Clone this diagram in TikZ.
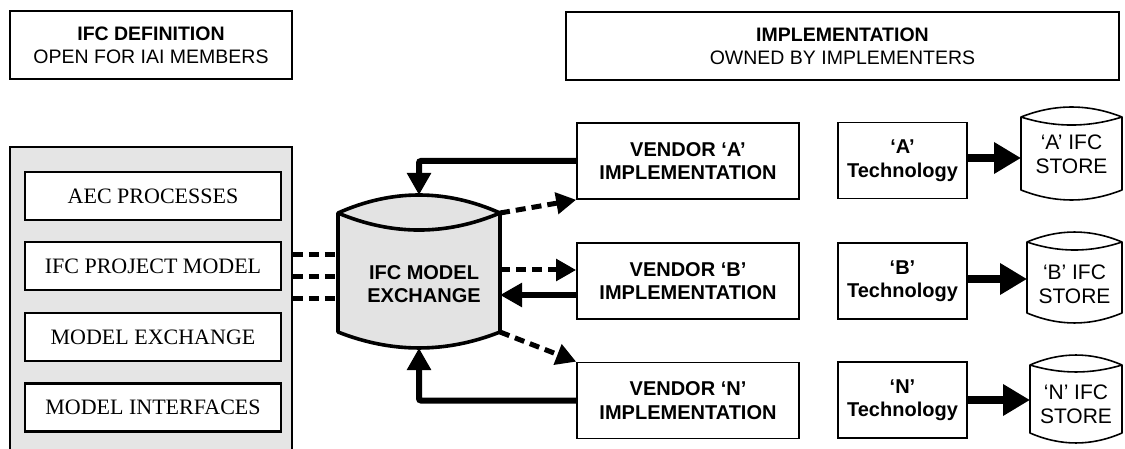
\documentclass[tikz,border=0pt]{standalone}
\usepackage{fontspec}
\setmainfont{Liberation Sans}
\newfontfamily\seriffont{Liberation Serif}
\usetikzlibrary{arrows.meta,calc}
\begin{document}
\begin{tikzpicture}[x=1pt,y=-1pt,
  sansf/.style={font=\fontsize{19.5}{23}\selectfont},
  sansb/.style={font=\fontsize{20}{23.5}\selectfont\bfseries},
  storef/.style={font=\fontsize{21}{24}\selectfont},
  hdr/.style={draw, line width=1.6pt, inner sep=0pt, align=center, sansf},
  panel/.style={draw, line width=1.6pt, fill=gray!20, inner sep=0pt},
  layer/.style={draw, line width=2.6pt, fill=white, inner sep=0pt, minimum width=256, minimum height=48, font=\seriffont\fontsize{22}{24}\selectfont},
  impl/.style={draw, line width=1.6pt, fill=white, inner sep=0pt, align=center, minimum height=76, sansb},
  cyl/.style={draw, line width=3.6pt, fill=gray!22, line join=round},
  store/.style={draw, line width=1.6pt, fill=white, line join=round},
  txt/.style={inner sep=0pt, align=center},
  solidarrow/.style={line width=6pt, rounded corners=2pt, -{Triangle[length=22pt,width=23pt]}},
  dasharrow/.style={line width=5pt, dash pattern=on 10pt off 6pt, -{Triangle[length=20pt,width=21pt]}},
  dashline/.style={line width=5pt, dash pattern=on 10pt off 6pt},
  techarrow/.style={line width=7.5pt, -{Triangle[length=27pt,width=30pt]}}
]
\useasboundingbox (0,0) rectangle (1125,449);

% headers
\node[hdr, minimum width=282, minimum height=68] (def) at (151,45)
  {\textbf{IFC DEFINITION}\\OPEN FOR IAI MEMBERS};
\node[hdr, minimum width=553, minimum height=68] (imp) at (842.5,46)
  {\textbf{IMPLEMENTATION}\\OWNED BY IMPLEMENTERS};

% left panel
\node[panel, minimum width=282, minimum height=308] (panel) at (151,301) {};
\node[layer] (aec) at (153,196) {AEC PROCESSES};
\node[layer] (ipm) at (153,266) {IFC PROJECT MODEL};
\node[layer] (mex) at (153,337) {MODEL EXCHANGE};
\node[layer] (mif) at (153,407.5) {MODEL INTERFACES};

% central cylinder
\draw[cyl] (338,213) .. controls (392,189) and (446,189) .. (500,213)
  -- (500,332) .. controls (446,353.3) and (392,353.3) .. (338,332) -- cycle;
\draw[cyl, fill=none] (338,213) .. controls (392,235.7) and (446,235.7) .. (500,213);
\node[txt, sansb] (ifc) at (424,284) {IFC MODEL\\EXCHANGE};
\coordinate (cTop) at (419,195);
\coordinate (cBot) at (419,348);
\coordinate (cTR) at (500,213);
\coordinate (cBR) at (500,332);
\coordinate (cR1) at (500,270);
\coordinate (cR2) at (500,295);
\coordinate (cL1) at (338,255);
\coordinate (cL2) at (338,277);
\coordinate (cL3) at (338,298);

% vendor boxes
\node[impl, minimum width=222] (va) at (688,161) {VENDOR `A'\\IMPLEMENTATION};
\node[impl, minimum width=222] (vb) at (688,281) {VENDOR `B'\\IMPLEMENTATION};
\node[impl, minimum width=222] (vn) at (688,400.5) {VENDOR `N'\\IMPLEMENTATION};

% technology boxes
\node[impl, minimum width=129] (ta) at (902.5,160.5) {`A'\\Technology};
\node[impl, minimum width=129] (tb) at (902.5,281) {`B'\\Technology};
\node[impl, minimum width=129] (tn) at (902.5,400) {`N'\\Technology};

% stores
\draw[store] (1021,117) .. controls (1054.7,103.7) and (1088.3,103.7) .. (1122,117)
  -- (1122,190) .. controls (1088.3,203.3) and (1054.7,203.3) .. (1021,190) -- cycle;
\draw[store, fill=none] (1021,117) .. controls (1054.7,127.7) and (1088.3,127.7) .. (1122,117);
\draw[store] (1027,242) .. controls (1058.7,228.7) and (1090.3,228.7) .. (1122,242)
  -- (1122,313) .. controls (1090.3,326.3) and (1058.7,326.3) .. (1027,313) -- cycle;
\draw[store, fill=none] (1027,242) .. controls (1058.7,252.7) and (1090.3,252.7) .. (1122,242);
\draw[store] (1030,365) .. controls (1060.7,351.7) and (1091.3,351.7) .. (1122,365)
  -- (1122,433) .. controls (1091.3,446.3) and (1060.7,446.3) .. (1030,433) -- cycle;
\draw[store, fill=none] (1030,365) .. controls (1060.7,374.3) and (1091.3,374.3) .. (1122,365);
\node[txt, storef] (sa) at (1071.5,154) {`A' IFC\\STORE};
\node[txt, storef] (sb) at (1074.5,284) {`B' IFC\\STORE};
\node[txt, storef] (sn) at (1076,404) {`N' IFC\\STORE};
\coordinate (saW) at (1021,158);
\coordinate (sbW) at (1027,279);
\coordinate (snW) at (1030,400);
\coordinate (taE) at (967,158);
\coordinate (tbE) at (967,279);
\coordinate (tnE) at (967,400);

% connectors panel -> cylinder
\draw[dashline] (panel.east |- cL1) -- (cL1);
\draw[dashline] (panel.east |- cL2) -- (cL2);
\draw[dashline] (panel.east |- cL3) -- (cL3);

% vendor <-> cylinder
\draw[solidarrow] (va.west) -| (cTop);
\draw[solidarrow] (vn.west) -| (cBot);
\draw[solidarrow] ($(vb.west)+(0,14)$) -- (cR2);
\draw[dasharrow] (cTR) -- (va.south west);
\draw[dasharrow] (cR1) -- ($(vb.west)+(0,-11)$);
\draw[dasharrow] (cBR) -- (vn.north west);

% technology -> store
\draw[techarrow] (taE) -- (saW);
\draw[techarrow] (tbE) -- (sbW);
\draw[techarrow] (tnE) -- (snW);
\end{tikzpicture}
\end{document}
